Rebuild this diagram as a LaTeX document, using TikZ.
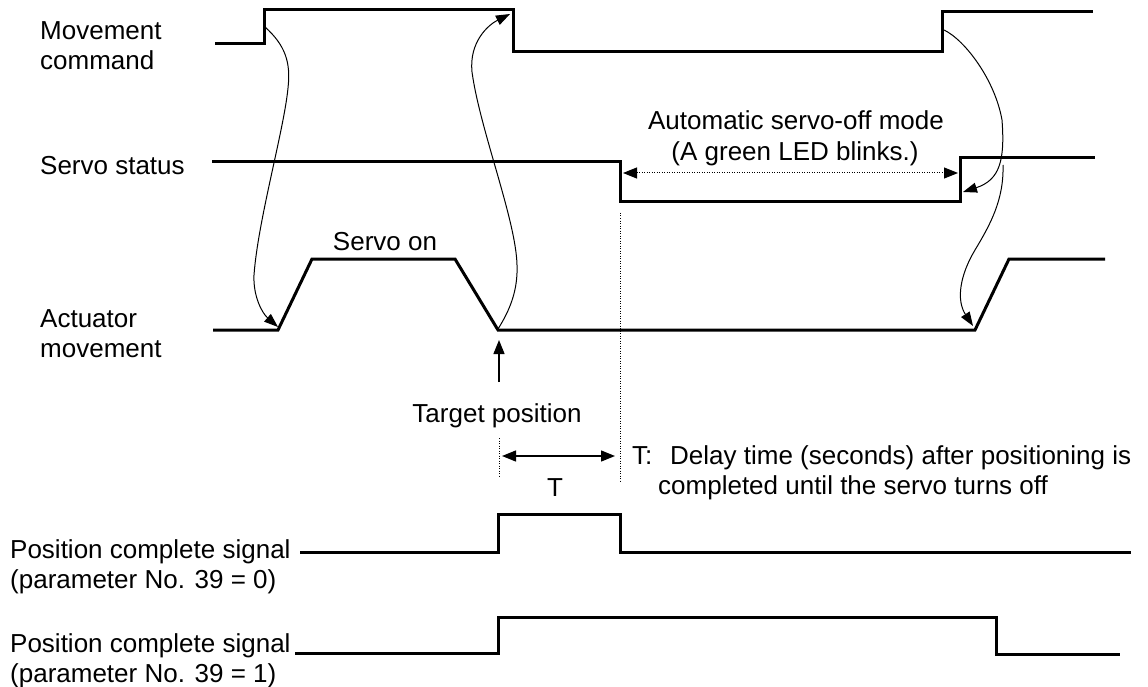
\documentclass[tikz,border=0pt]{standalone}
\usepackage{fontspec}
\setmainfont{Liberation Sans}
\usetikzlibrary{arrows.meta}
\begin{document}
\begin{tikzpicture}[x=1pt,y=-1pt,
  sig/.style={line width=3pt,line join=miter,line cap=butt},
  link/.style={line width=1pt,-{Triangle[length=14pt,width=10pt]}},
  guide/.style={line width=1pt,dash pattern=on 1pt off 1.5pt},
  lbl/.style={font=\fontsize{26}{30}\selectfont,inner sep=0pt,anchor=base west},
  clbl/.style={font=\fontsize{26}{30}\selectfont,inner sep=0pt,anchor=base}]
\useasboundingbox (0,0) rectangle (1148,687);
% labels
\node[lbl] (mc1) at (40,40) {Movement};
\node[lbl] (mc2) at (40,70) {command};
\node[lbl] (ss) at (40,175) {Servo status};
\node[lbl] (am1) at (40,327) {Actuator};
\node[lbl] (am2) at (40,357) {movement};
\node[clbl] (son) at (385,250) {Servo on};
\node[clbl] (aso1) at (796,130) {Automatic servo-off mode};
\node[clbl] (aso2) at (795,161) {(A green LED blinks.)};
\node[clbl] (tp) at (497,422) {Target position};
\node[lbl] (tc) at (632,464) {T:};
\node[lbl] (td1) at (670,464) {Delay time (seconds) after positioning is};
\node[lbl] (td2) at (658,494) {completed until the servo turns off};
\node[clbl] (tlab) at (555,496) {T};
\node[lbl] (p01) at (10,558) {Position complete signal};
\node[lbl] (p02) at (10,588) {(parameter No. 39 = 0)};
\node[lbl] (p11) at (10,652) {Position complete signal};
\node[lbl] (p12) at (10,682) {(parameter No. 39 = 1)};
% signals
\draw[sig] (215,44) -- (264,44) -- (264,10) -- (513,10) -- (513,52) -- (942,52) -- (942,12) -- (1093,12);
\draw[sig] (212,162) -- (620,162) -- (620,202) -- (960,202) -- (960,158) -- (1095,158);
\draw[sig] (213,330) -- (278,330) -- (312,259) -- (455,259) -- (498,330) -- (975,330) -- (1009,259) -- (1105,259);
\draw[sig] (300,552) -- (498,552) -- (498,514) -- (620,514) -- (620,552) -- (1131,552);
\draw[sig] (295,653) -- (498,653) -- (498,617) -- (996,617) -- (996,654) -- (1120,654);
% key points
\coordinate (mcrise) at (265,27);
\coordinate (amstart) at (278,327);
\coordinate (amstop) at (498,329);
\coordinate (mcfall) at (510,14);
\coordinate (mcrise2) at (944,30);
\coordinate (ssrise) at (963,192);
\coordinate (split) at (1003,165);
\coordinate (amstart2) at (973,326);
\coordinate (ssfall) at (623,173);
\coordinate (ssrise2) at (958,173);
\coordinate (tpl) at (499,382);
\coordinate (tpt) at (499,340);
\coordinate (tl) at (502,456);
\coordinate (tr) at (615,456);
% cause arrows
\draw[link] (mcrise) .. controls (285,45) and (291,62) .. (288,88)
  .. controls (284,130) and (258,220) .. (254,275)
  .. controls (253,296) and (262,313) .. (amstart);
\draw[link] (amstop) .. controls (510,310) and (518,290) .. (517,265)
  .. controls (516,220) and (480,130) .. (472,72)
  .. controls (469,42) and (488,25) .. (mcfall);
\draw[link] (mcrise2) .. controls (965,40) and (995,80) .. (1002,120)
  .. controls (1005,160) and (1000,180) .. (ssrise);
\draw[link] (split) .. controls (1004,200) and (990,225) .. (975,250)
  .. controls (960,275) and (956,300) .. (amstart2);
% guides
\draw[guide] (620,213) -- (620,483);
\draw[guide] (499,438) -- (499,477);
\draw[guide,{Triangle[length=14pt,width=11pt]}-{Triangle[length=14pt,width=11pt]}] (ssfall) -- (ssrise2);
\draw[line width=1.3pt,-{Triangle[length=14pt,width=11pt]}] (tpl) -- (tpt);
\draw[line width=1.3pt,{Triangle[length=14pt,width=11pt]}-{Triangle[length=14pt,width=11pt]}] (tl) -- (tr);
\end{tikzpicture}
\end{document}
